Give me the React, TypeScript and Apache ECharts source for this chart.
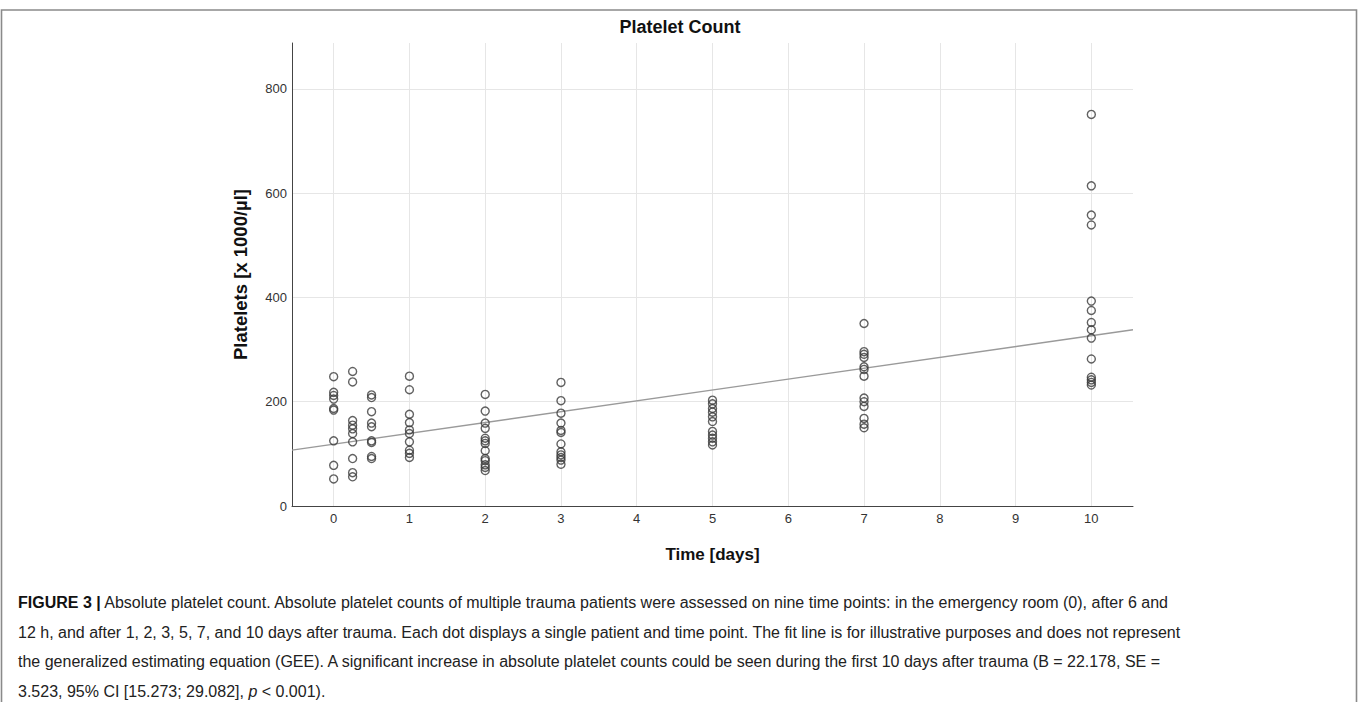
import React, { useEffect, useRef } from "react";
import * as echarts from "echarts";

const xTickValues = [0, 1, 2, 3, 4, 5, 6, 7, 8, 9, 10];
const yTickValues = [0, 200, 400, 600, 800];
const timePoints = [0, 0.25, 0.5, 1, 2, 3, 5, 7, 10];
const day0 = [248, 218, 212, 205, 187, 184, 125, 78, 52];
const hour6 = [258, 238, 164, 155, 148, 139, 123, 91, 64, 56];
const hour12 = [213, 208, 181, 159, 152, 125, 122, 95, 91];
const day1 = [249, 223, 176, 160, 146, 139, 123, 107, 101, 93];
const day2 = [214, 182, 159, 149, 130, 125, 120, 106, 91, 87, 79, 74, 68];
const day3 = [237, 202, 178, 159, 145, 141, 119, 104, 98, 93, 88, 80];
const day5 = [203, 196, 187, 180, 171, 162, 143, 136, 130, 123, 117];
const day7 = [350, 296, 291, 285, 267, 262, 249, 207, 200, 191, 168, 157, 150];
const day10 = [751, 614, 558, 539, 393, 375, 352, 338, 322, 282, 247, 242, 237, 232];
const fitLine = [
  [-0.55, 107],
  [10.55, 338],
];

const groups = [day0, hour6, hour12, day1, day2, day3, day5, day7, day10];

const captionLines = [
  "{b|FIGURE 3 |} Absolute platelet count. Absolute platelet counts of multiple trauma patients were assessed on nine time points: in the emergency room (0), after 6 and",
  "12 h, and after 1, 2, 3, 5, 7, and 10 days after trauma. Each dot displays a single patient and time point. The fit line is for illustrative purposes and does not represent",
  "the generalized estimating equation (GEE). A significant increase in absolute platelet counts could be seen during the first 10 days after trauma (B = 22.178, SE =",
  "3.523, 95% CI [15.273; 29.082], {i|p} < 0.001).",
];

export default function App() {
  const ref = useRef<HTMLDivElement>(null);
  useEffect(() => {
    if (!ref.current) return;
    const chart = echarts.init(ref.current, undefined, { renderer: "svg" });
    const points: number[][] = [];
    timePoints.forEach((t, i) => groups[i].forEach((v) => points.push([t, v])));
    const font = "'Liberation Sans', Arial, sans-serif";
    chart.setOption({
      animation: false,
      backgroundColor: "#ffffff",
      title: {
        text: "Platelet Count",
        left: 680,
        top: 18,
        textAlign: "center",
        padding: 0,
        textStyle: { fontFamily: font, fontWeight: "bold", fontSize: 18, color: "#111" },
      },
      grid: { left: 292, right: 227, top: 43, bottom: 196, outerBoundsMode: "none" },
      xAxis: {
        type: "value",
        min: -0.55,
        max: 10.55,
        name: "Time [days]",
        nameLocation: "middle",
        nameGap: 40,
        nameTextStyle: { fontFamily: font, fontWeight: "bold", fontSize: 17, color: "#111" },
        axisLine: { show: true, onZero: false, lineStyle: { color: "#444", width: 1 } },
        axisTick: { show: false, customValues: xTickValues },
        axisLabel: { customValues: xTickValues, margin: 6, fontFamily: font, fontSize: 13, color: "#333" },
        splitLine: { show: true, lineStyle: { color: "#e6e6e6", width: 1 } },
      },
      yAxis: {
        type: "value",
        min: 0,
        max: 888,
        name: "Platelets [x 1000/µl]",
        nameLocation: "middle",
        nameGap: 42,
        nameRotate: 90,
        nameTextStyle: { fontFamily: font, fontWeight: "bold", fontSize: 18.5, color: "#111" },
        axisLine: { show: true, onZero: false, lineStyle: { color: "#444", width: 1 } },
        axisTick: { show: false, customValues: yTickValues },
        axisLabel: { customValues: yTickValues, margin: 5, fontFamily: font, fontSize: 13, color: "#333" },
        splitLine: { show: true, lineStyle: { color: "#e6e6e6", width: 1 } },
      },
      series: [
        {
          type: "line",
          data: fitLine,
          showSymbol: false,
          silent: true,
          lineStyle: { color: "#9a9a9a", width: 1.3 },
          z: 1,
        },
        {
          type: "scatter",
          data: points,
          symbol: "circle",
          symbolSize: 8,
          itemStyle: { color: "rgba(255,255,255,0)", borderColor: "#3a3a3a", borderWidth: 1.4 },
          z: 2,
        },
      ],
      graphic: [
        {
          type: "rect",
          shape: { x: 1.5, y: 10, width: 1355, height: 720 },
          style: { fill: "none", stroke: "#8a8a8a", lineWidth: 1.6 },
          silent: true,
        },
        {
          type: "text",
          x: 18,
          y: 588,
          style: {
            text: captionLines.join("\n"),
            fontFamily: font,
            fontSize: 16,
            lineHeight: 29.5,
            fill: "#222",
            rich: {
              b: { fontFamily: font, fontSize: 16, fontWeight: "bold", fill: "#111", lineHeight: 29.5 },
              i: { fontFamily: font, fontSize: 16, fontStyle: "italic", fill: "#222", lineHeight: 29.5 },
            },
          },
        },
      ],
    });
    return () => chart.dispose();
  }, []);
  return (
    <div
      ref={ref}
      style={{ position: "fixed", left: 0, top: 0, width: 1360, height: 702, background: "#fff" }}
    />
  );
}
